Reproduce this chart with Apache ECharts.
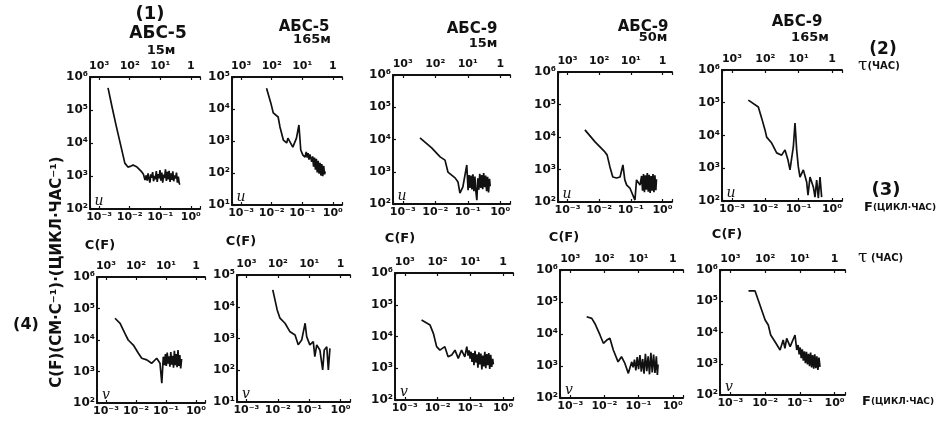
<!DOCTYPE html>
<html>
<head>
    <meta charset="utf-8">
    <title>Спектры C(F), АБС-5 / АБС-9</title>
    <script src="https://cdn.jsdelivr.net/npm/echarts@6/dist/echarts.min.js"></script>
</head>
<body style="margin:0;background:#fff">
    <div id="main" style="width:948px;height:429px;"></div>
    <script type="text/javascript">
        // станции и горизонты (верхний ряд - u, нижний - v)
        var stations = ['АБС-5', 'АБС-5', 'АБС-9', 'АБС-9', 'АБС-9'];
        var depths = ['15м', '165м', '15м', '50м', '165м'];

        // подписи делений
        var fTicks = ['10⁻³', '10⁻²', '10⁻¹', '10⁰'];
        var tauTicks = ['10³', '10²', '10¹', '1'];
        var cTicks = ['10⁰', '10¹', '10²', '10³', '10⁴', '10⁵', '10⁶'];
        // верхняя декада оси C(F) для каждой панели
        var cTopExp = [6, 5, 6, 6, 6, 6, 5, 6, 6, 6];

        // кривые: [lg F, lg C(F)]
        var u1 = [[-2.71,5.67],[-2.58,5.10],[-2.45,4.55],[-2.30,3.95],[-2.16,3.39],[-2.06,3.27],[-1.96,3.30],[-1.89,3.33],[-1.76,3.27],[-1.63,3.15],[-1.55,3.05],[-1.50,2.88],
            [-1.46,3.02],[-1.43,2.86],[-1.40,3.08],[-1.37,2.92],[-1.34,2.80],[-1.31,3.05],[-1.28,2.95],[-1.25,3.12],[-1.22,2.84],[-1.19,3.00],[-1.16,2.90],[-1.13,3.15],[-1.10,2.82],
            [-1.07,3.06],[-1.04,2.93],[-1.01,3.18],[-0.98,2.86],[-0.95,3.10],[-0.92,2.80],[-0.89,3.04],[-0.86,2.94],[-0.83,3.20],[-0.80,2.85],[-0.77,3.13],[-0.74,2.90],[-0.71,3.16],
            [-0.68,2.82],[-0.65,3.08],[-0.62,2.88],[-0.59,3.14],[-0.56,2.84],[-0.53,3.02],[-0.50,2.92],[-0.47,3.10],[-0.44,2.80],[-0.41,2.98],[-0.38,2.78],[-0.36,2.74]];
        var u2 = [[-2.17,4.65],[-2.03,4.19],[-1.95,3.88],[-1.79,3.75],[-1.73,3.44],[-1.62,3.03],[-1.51,2.94],[-1.47,3.09],[-1.31,2.81],[-1.19,3.09],[-1.11,3.50],[-1.05,2.72],[-0.98,2.56],[-0.91,2.50],
            [-0.87,2.66],[-0.84,2.48],[-0.81,2.62],[-0.78,2.42],[-0.75,2.58],[-0.72,2.55],[-0.69,2.35],[-0.66,2.52],[-0.63,2.20],[-0.60,2.48],[-0.57,2.10],[-0.54,2.44],[-0.51,2.02],
            [-0.48,2.38],[-0.45,1.98],[-0.42,2.32],[-0.39,1.92],[-0.36,2.28],[-0.33,1.90],[-0.30,2.22],[-0.27,1.96],[-0.25,2.05]];
        var u3 = [[-2.47,4.05],[-2.11,3.74],[-1.85,3.46],[-1.70,3.36],[-1.61,2.99],[-1.39,2.81],[-1.30,2.68],[-1.24,2.34],[-1.15,2.53],[-1.03,3.21],[-0.99,2.43],
            [-0.96,2.90],[-0.93,2.50],[-0.90,2.88],[-0.87,2.45],[-0.84,2.92],[-0.81,2.40],[-0.78,2.85],[-0.75,2.38],[-0.72,2.12],[-0.69,2.80],[-0.66,2.44],[-0.63,2.94],[-0.60,2.50],
            [-0.57,2.90],[-0.54,2.46],[-0.51,2.96],[-0.48,2.52],[-0.45,2.88],[-0.42,2.40],[-0.39,2.84],[-0.36,2.36],[-0.33,2.78],[-0.31,2.55]];
        var u4 = [[-2.45,4.22],[-2.13,3.85],[-1.82,3.54],[-1.75,3.45],[-1.66,3.08],[-1.57,2.77],[-1.45,2.74],[-1.34,2.77],[-1.25,3.14],[-1.19,2.68],[-1.13,2.52],[-1.03,2.43],[-0.87,2.06],[-0.82,2.68],[-0.71,2.52],
            [-0.66,2.80],[-0.63,2.35],[-0.60,2.86],[-0.57,2.30],[-0.54,2.82],[-0.51,2.38],[-0.48,2.89],[-0.45,2.32],[-0.42,2.84],[-0.39,2.28],[-0.36,2.80],[-0.33,2.35],[-0.30,2.86],
            [-0.27,2.30],[-0.24,2.82],[-0.21,2.36],[-0.19,2.70]];
        var u5 = [[-2.51,5.08],[-2.21,4.87],[-2.11,4.53],[-2.01,4.17],[-1.96,3.95],[-1.81,3.77],[-1.66,3.47],[-1.51,3.40],[-1.41,3.56],[-1.32,3.25],[-1.26,2.95],[-1.21,3.31],[-1.16,3.65],
            [-1.11,4.38],[-1.06,3.56],[-1.01,3.04],[-0.96,2.73],[-0.86,2.95],[-0.76,2.58],[-0.72,2.18],[-0.66,2.73],[-0.56,2.43],[-0.51,2.12],[-0.46,2.64],[-0.41,2.09],[-0.36,2.73],[-0.31,2.12]];
        var v1 = [[-2.70,4.69],[-2.53,4.53],[-2.37,4.21],[-2.26,4.00],[-2.09,3.84],[-1.92,3.58],[-1.81,3.42],[-1.64,3.37],[-1.48,3.26],[-1.31,3.42],[-1.20,3.26],[-1.14,2.63],[-1.09,3.47],
            [-1.05,3.20],[-1.02,3.55],[-0.99,3.18],[-0.96,3.60],[-0.93,3.25],[-0.90,3.48],[-0.87,3.15],[-0.84,3.62],[-0.81,3.22],[-0.78,3.50],[-0.75,3.12],[-0.72,3.66],[-0.69,3.20],
            [-0.66,3.55],[-0.63,3.14],[-0.60,3.68],[-0.57,3.18],[-0.54,3.52],[-0.51,3.10],[-0.48,3.40]];
        var v2 = [[-2.16,4.53],[-2.02,3.90],[-1.93,3.64],[-1.77,3.48],[-1.61,3.21],[-1.45,3.11],[-1.35,2.80],[-1.24,2.95],[-1.13,3.48],[-1.08,3.06],[-0.98,2.80],[-0.87,2.90],[-0.82,2.43],
            [-0.76,2.80],[-0.66,2.64],[-0.57,2.01],[-0.52,2.64],[-0.44,2.74],[-0.39,2.01],[-0.34,2.69]];
        var v3 = [[-2.49,4.52],[-2.23,4.36],[-2.13,4.10],[-2.03,3.68],[-1.93,3.57],[-1.78,3.68],[-1.68,3.36],[-1.57,3.42],[-1.47,3.57],[-1.37,3.31],[-1.27,3.57],[-1.17,3.36],[-1.11,3.68],
            [-1.07,3.40],[-1.04,3.56],[-1.01,3.30],[-0.98,3.52],[-0.95,3.20],[-0.92,3.48],[-0.89,3.10],[-0.86,3.55],[-0.83,3.18],[-0.80,3.44],[-0.77,3.02],[-0.74,3.50],[-0.71,3.12],
            [-0.68,3.46],[-0.65,2.96],[-0.62,3.40],[-0.59,3.06],[-0.56,3.52],[-0.53,3.00],[-0.50,3.45],[-0.47,3.10],[-0.44,3.48],[-0.41,2.98],[-0.38,3.42],[-0.35,3.04],[-0.32,3.30],[-0.30,3.12]];
        var v4 = [[-2.52,4.54],[-2.37,4.49],[-2.28,4.33],[-2.13,3.97],[-2.03,3.71],[-1.93,3.81],[-1.84,3.87],[-1.74,3.50],[-1.60,3.13],[-1.50,3.29],[-1.40,3.08],[-1.30,2.77],[-1.20,3.13],
            [-1.16,2.96],[-1.12,3.20],[-1.08,2.86],[-1.04,3.28],[-1.00,2.90],[-0.96,3.34],[-0.92,2.82],[-0.88,3.22],[-0.84,2.76],[-0.80,3.38],[-0.76,2.84],[-0.72,3.30],[-0.68,2.74],
            [-0.64,3.41],[-0.60,2.80],[-0.56,3.36],[-0.52,2.78],[-0.48,3.30],[-0.45,2.72],[-0.43,3.05]];
        var v5 = [[-2.48,5.33],[-2.29,5.33],[-2.20,5.04],[-2.10,4.72],[-2.00,4.40],[-1.91,4.24],[-1.84,3.92],[-1.72,3.71],[-1.57,3.44],[-1.48,3.76],[-1.43,3.49],[-1.38,3.81],[-1.28,3.55],
            [-1.14,3.92],[-1.09,3.44],[-1.05,3.60],[-1.02,3.30],[-0.99,3.52],[-0.96,3.18],[-0.93,3.46],[-0.90,3.10],[-0.87,3.40],[-0.84,3.02],[-0.81,3.38],[-0.78,2.98],[-0.75,3.32],
            [-0.72,2.92],[-0.69,3.36],[-0.66,2.88],[-0.63,3.28],[-0.60,2.84],[-0.57,3.30],[-0.54,2.86],[-0.51,3.24],[-0.48,2.80],[-0.45,3.20],[-0.42,2.90]];
        var curves = [u1, u2, u3, u4, u5, v1, v2, v3, v4, v5];

        // расположение панелей
        var panels = [
            {left: 90, top: 77, width: 110, height: 132},
            {left: 232, top: 77, width: 110, height: 128},
            {left: 393, top: 75, width: 117, height: 129},
            {left: 558, top: 72, width: 114, height: 130},
            {left: 722, top: 70, width: 120, height: 131},
            {left: 97, top: 277, width: 108, height: 126},
            {left: 237, top: 275, width: 113, height: 127},
            {left: 395, top: 273, width: 118, height: 127},
            {left: 560, top: 270, width: 123, height: 128},
            {left: 720, top: 270, width: 125, height: 125}
        ];

        var ink = '#111';
        var font = 'DejaVu Sans';

        function decade(v) {
            var e = Math.log(v) / Math.LN10;
            var r = Math.round(e);
            return Math.abs(e - r) > 0.02 ? null : r;
        }

        var axisLine = {onZero: false, lineStyle: {color: ink, width: 2}};
        var axisTick = {inside: true, length: 3, lineStyle: {color: ink, width: 1.2}};
        var labelBase = {color: ink, fontSize: 11, fontWeight: 'bold', fontFamily: font};

        var grids = [], xAxes = [], yAxes = [], series = [];
        panels.forEach(function (p, i) {
            grids.push({left: p.left, top: p.top, width: p.width, height: p.height});
            xAxes.push({
                gridIndex: i, type: 'log', position: 'bottom',
                min: Math.pow(10, -3.3), max: Math.pow(10, 0.3),
                axisLine: axisLine, axisTick: axisTick, splitLine: {show: false},
                axisLabel: Object.assign({}, labelBase, {margin: 3, formatter: function (v) {
                    var r = decade(v); return r === null ? '' : fTicks[r + 3];
                }})
            });
            xAxes.push({
                gridIndex: i, type: 'log', position: 'top',
                min: Math.pow(10, -3.3), max: Math.pow(10, 0.3),
                axisLine: axisLine, axisTick: axisTick, splitLine: {show: false},
                axisLabel: Object.assign({}, labelBase, {margin: 5, formatter: function (v) {
                    var r = decade(v); return r === null ? '' : tauTicks[r + 3];
                }})
            });
            yAxes.push({
                gridIndex: i, type: 'log',
                min: Math.pow(10, cTopExp[i] - 4), max: Math.pow(10, cTopExp[i]),
                axisLine: axisLine, axisTick: axisTick, splitLine: {show: false},
                axisLabel: Object.assign({}, labelBase, {fontSize: 12, margin: 2, formatter: function (v) {
                    var r = decade(v); return r === null ? '' : cTicks[r];
                }})
            });
            series.push({
                type: 'line', xAxisIndex: 2 * i, yAxisIndex: i,
                showSymbol: false, silent: true,
                lineStyle: {color: ink, width: 1.7},
                data: curves[i].map(function (pt) {
                    return [Math.pow(10, pt[0]), Math.pow(10, pt[1])];
                })
            });
        });

        function txt(s, x, y, size, extra) {
            return Object.assign({
                type: 'text', x: x, y: y, silent: true,
                style: {text: s, fill: ink, fontSize: size, fontFamily: font, fontWeight: 'bold',
                    align: 'center', verticalAlign: 'middle'}
            }, extra || {});
        }

        var titlePos = [[158, 34, 161, 51], [304, 27, 312, 40], [472, 29, 483, 44], [643, 27, 653, 38], [797, 22, 810, 38]];
        var cfPos = [[100, 246], [241, 242], [400, 239], [564, 238], [727, 235]];

        var graphic = [txt('(1)', 150, 14, 18)];
        stations.forEach(function (s, i) {
            var t = titlePos[i];
            graphic.push(txt(s, t[0], t[1], i === 0 ? 17 : 15));
            graphic.push(txt(depths[i], t[2], t[3], 13));
            graphic.push(txt('C(F)', cfPos[i][0], cfPos[i][1], 13));
        });
        panels.forEach(function (p, i) {
            graphic.push(txt(i < 5 ? 'u' : 'v', p.left + 9, p.top + p.height - 8, 14,
                {style: {text: i < 5 ? 'u' : 'v', fill: ink, fontSize: 14, fontStyle: 'italic',
                    fontFamily: 'DejaVu Serif', align: 'center', verticalAlign: 'middle'}}));
        });
        graphic.push(txt('(2)', 883, 50, 17));
        graphic.push({type: 'text', x: 858, y: 66, silent: true,
            style: {text: '{t|τ}{s|(ЧАС)}', fill: ink, verticalAlign: 'middle',
                rich: {t: {fontSize: 17, fontFamily: 'DejaVu Serif', fill: ink},
                    s: {fontSize: 10, fontWeight: 'bold', fontFamily: font, fill: ink}}}});
        graphic.push(txt('(3)', 886, 190, 18));
        graphic.push({type: 'text', x: 864, y: 208, silent: true,
            style: {text: '{f|F}{s|(ЦИКЛ·ЧАС)}', fill: ink, verticalAlign: 'middle',
                rich: {f: {fontSize: 13, fontWeight: 'bold', fontFamily: font, fill: ink},
                    s: {fontSize: 9, fontWeight: 'bold', fontFamily: font, fill: ink}}}});
        graphic.push({type: 'text', x: 858, y: 258, silent: true,
            style: {text: '{t|τ}{s| (ЧАС)}', fill: ink, verticalAlign: 'middle',
                rich: {t: {fontSize: 17, fontFamily: 'DejaVu Serif', fill: ink},
                    s: {fontSize: 10, fontWeight: 'bold', fontFamily: font, fill: ink}}}});
        graphic.push({type: 'text', x: 862, y: 402, silent: true,
            style: {text: '{f|F}{s|(ЦИКЛ·ЧАС)}', fill: ink, verticalAlign: 'middle',
                rich: {f: {fontSize: 13, fontWeight: 'bold', fontFamily: font, fill: ink},
                    s: {fontSize: 9, fontWeight: 'bold', fontFamily: font, fill: ink}}}});
        graphic.push(txt('(4)', 26, 325, 16));
        graphic.push(txt('C(F)(СМ·С⁻¹)·(ЦИКЛ·ЧАС⁻¹)', 57, 272, 15, {rotation: Math.PI / 2}));

        var myChart = echarts.init(document.getElementById('main'));
        myChart.setOption({
            backgroundColor: '#fff',
            animation: false,
            grid: grids,
            xAxis: xAxes,
            yAxis: yAxes,
            series: series,
            graphic: graphic
        });
    </script>
</body>
</html>
